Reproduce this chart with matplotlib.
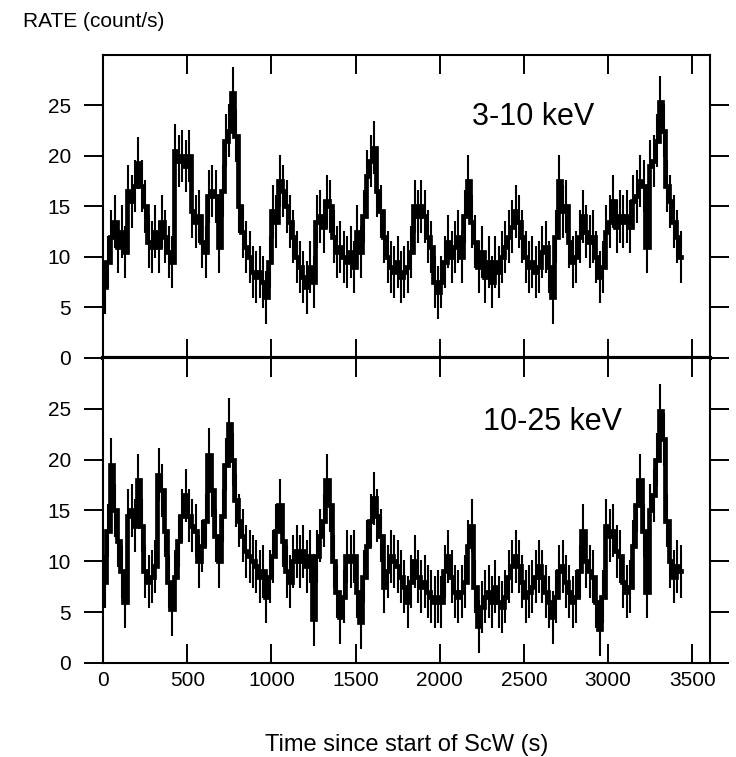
import numpy as np
import matplotlib
matplotlib.use('Agg')
import matplotlib.pyplot as plt

plt.rcParams['font.family'] = ['Liberation Sans', 'DejaVu Sans']

# light curves, 20 s bins starting at t=0
bin_width = 20.0

rate_soft = [
    7.0, 9.5, 12.0, 13.5, 11.0, 12.5, 10.5, 16.5, 15.5, 17.0,
    19.3, 17.0, 15.0, 11.5, 11.0, 12.5, 11.0, 13.5, 12.0, 10.5,
    9.5, 20.5, 19.5, 20.0, 19.0, 20.0, 14.5, 13.5, 14.0, 11.5,
    10.5, 16.0, 16.5, 16.0, 11.0, 16.5, 21.5, 22.5, 26.2, 22.0,
    15.0, 12.5, 11.0, 10.0, 8.5, 8.0, 8.5, 7.5, 6.0, 9.5,
    14.5, 13.5, 17.5, 16.5, 15.0, 13.5, 12.0, 10.0, 9.0, 8.0,
    7.0, 9.0, 7.5, 13.5, 14.0, 13.0, 15.5, 15.0, 12.0, 10.5,
    11.0, 10.0, 9.5, 10.5, 9.0, 12.5, 10.5, 14.0, 18.0, 19.5,
    20.8, 16.5, 14.5, 12.0, 10.0, 9.0, 8.5, 9.5, 8.0, 8.5,
    9.0, 10.5, 15.0, 14.0, 15.0, 14.0, 12.0, 11.0, 7.5, 6.5,
    7.5, 9.5, 11.5, 10.0, 11.0, 12.0, 10.0, 14.0, 17.5, 13.5,
    11.5, 9.0, 10.5, 8.0, 9.5, 7.5, 9.5, 8.5, 10.0, 11.0,
    12.0, 13.0, 14.5, 13.5, 12.0, 10.0, 9.0, 9.5, 8.5, 9.0,
    10.5, 11.0, 9.0, 6.0, 12.0, 17.5, 14.5, 15.0, 11.5, 9.5,
    10.0, 12.0, 14.0, 12.5, 11.5, 12.0, 10.0, 8.0, 9.0, 12.5,
    13.5, 15.5, 13.0, 14.0, 13.5, 14.0, 13.0, 15.5, 16.0, 17.5,
    17.0, 11.0, 19.0, 19.5, 21.5, 25.3, 22.5, 17.0, 15.5, 13.5,
    12.0, 10.0,
]

rate_hard = [
    8.0, 13.0, 19.5, 15.0, 12.0, 9.0, 6.0, 14.5, 15.0, 13.5,
    18.0, 13.5, 9.0, 8.0, 8.5, 9.5, 18.5, 17.0, 13.0, 8.0,
    5.3, 8.5, 12.0, 14.5, 16.5, 14.5, 13.5, 13.0, 10.0, 11.5,
    14.0, 20.5, 17.0, 12.5, 10.0, 14.5, 19.5, 23.5, 20.0, 16.0,
    14.0, 12.5, 11.0, 10.5, 10.0, 9.5, 8.5, 9.0, 6.5, 8.5,
    10.5, 13.0, 15.5, 12.0, 9.0, 8.0, 10.0, 11.0, 10.0, 11.0,
    9.5, 10.5, 4.3, 10.5, 12.5, 14.0, 18.0, 15.5, 10.0, 7.0,
    4.5, 6.5, 10.5, 10.0, 10.5, 7.0, 4.0, 8.5, 11.5, 14.0,
    16.2, 14.5, 12.5, 7.5, 9.0, 10.5, 10.0, 9.5, 8.5, 7.5,
    6.0, 8.0, 10.0, 8.5, 7.5, 8.0, 7.0, 6.5, 6.0, 6.5,
    6.0, 9.0, 10.5, 8.5, 7.0, 6.5, 7.0, 8.0, 11.5, 13.5,
    7.5, 3.6, 5.5, 6.5, 7.0, 6.0, 7.5, 6.0, 5.5, 6.5,
    8.5, 9.5, 10.5, 9.5, 8.0, 6.5, 7.0, 7.5, 8.5, 9.5,
    8.5, 7.0, 6.0, 4.5, 6.5, 9.0, 9.5, 8.0, 7.0, 6.0,
    6.5, 9.0, 13.0, 10.0, 9.0, 8.5, 6.0, 3.3, 6.5, 13.5,
    12.5, 13.0, 11.0, 10.5, 8.0, 7.0, 7.5, 11.5, 15.5, 18.0,
    13.0, 7.0, 15.0, 16.5, 20.0, 24.8, 22.0, 14.0, 10.0, 8.5,
    9.5, 9.0,
]

err_soft = 2.6
err_hard = 2.6
band_labels = ['3-10 keV', '10-25 keV']

t = bin_width * (np.arange(len(rate_soft)) + 0.5)

fig = plt.figure(figsize=(7.36, 7.57), dpi=100)
ax1 = fig.add_axes([0.140, 0.5271, 0.8247, 0.4006])
ax2 = fig.add_axes([0.140, 0.1242, 0.8247, 0.4029])

panels = [(ax1, rate_soft, err_soft, band_labels[0], (0.608, 0.795)),
          (ax2, rate_hard, err_hard, band_labels[1], (0.626, 0.790))]

for ax, rate, err, lab, pos in panels:
    ax.errorbar(t, rate, yerr=err, xerr=bin_width / 2, fmt='none',
                ecolor='k', elinewidth=1.5, capsize=0)
    ax.plot(t, rate, color='k', lw=3.4, drawstyle='steps-mid',
            solid_joinstyle='miter')
    ax.set_xlim(0, 3605)
    ax.set_ylim(0, 30)
    ax.set_xticks([0, 500, 1000, 1500, 2000, 2500, 3000, 3500])
    ax.set_yticks([0, 5, 10, 15, 20, 25])
    ax.tick_params(axis='y', direction='out', length=14, width=1.4,
                   left=True, right=True, labelsize=15, pad=9)
    ax.tick_params(axis='x', direction='in', length=14, width=1.4,
                   top=True, bottom=True, labelsize=15, pad=6)
    for s in ax.spines.values():
        s.set_linewidth(1.5)
    ax.text(pos[0], pos[1], lab, transform=ax.transAxes, fontsize=22,
            ha='left', va='center')

ax1.tick_params(axis='x', labelbottom=False)
ax1.spines['bottom'].set_linewidth(3)

fig.text(0.031, 0.971, 'RATE (count/s)', fontsize=15, ha='left', va='center')
fig.text(0.5523, 0.016, 'Time since start of ScW (s)', fontsize=17,
         ha='center', va='center')

fig.savefig('out.png', dpi=100)
